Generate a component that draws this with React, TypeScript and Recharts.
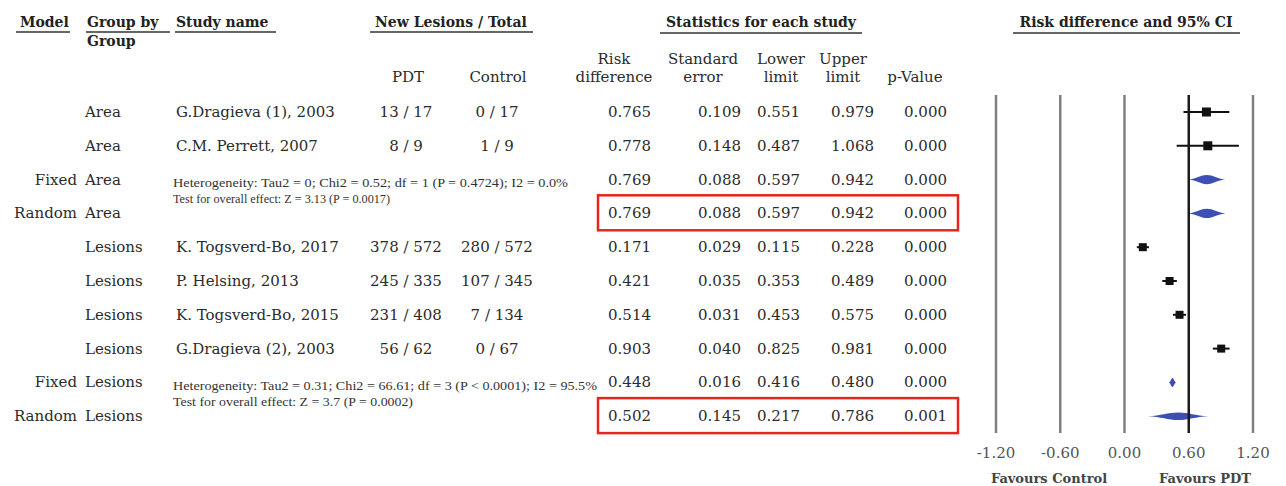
import React from 'react';
import { ComposedChart, Bar, XAxis, YAxis, ReferenceLine } from 'recharts';

// ---- table / forest data ----
const models = ['', '', 'Fixed', 'Random', '', '', '', '', 'Fixed', 'Random'];
const groups = ['Area', 'Area', 'Area', 'Area', 'Lesions', 'Lesions', 'Lesions', 'Lesions', 'Lesions', 'Lesions'];
const studies = [
  'G.Dragieva (1), 2003',
  'C.M. Perrett, 2007',
  '',
  '',
  'K. Togsverd-Bo, 2017',
  'P. Helsing, 2013',
  'K. Togsverd-Bo, 2015',
  'G.Dragieva (2), 2003',
  '',
  '',
];
const pdtCounts = ['13 / 17', '8 / 9', '', '', '378 / 572', '245 / 335', '231 / 408', '56 / 62', '', ''];
const controlCounts = ['0 / 17', '1 / 9', '', '', '280 / 572', '107 / 345', '7 / 134', '0 / 67', '', ''];
const riskDifference = [0.765, 0.778, 0.769, 0.769, 0.171, 0.421, 0.514, 0.903, 0.448, 0.502];
const standardError = [0.109, 0.148, 0.088, 0.088, 0.029, 0.035, 0.031, 0.04, 0.016, 0.145];
const lowerLimit = [0.551, 0.487, 0.597, 0.597, 0.115, 0.353, 0.453, 0.825, 0.416, 0.217];
const upperLimit = [0.979, 1.068, 0.942, 0.942, 0.228, 0.489, 0.575, 0.981, 0.48, 0.786];
const pValues = ['0.000', '0.000', '0.000', '0.000', '0.000', '0.000', '0.000', '0.000', '0.000', '0.001'];

const heterogeneityArea = 'Heterogeneity: Tau2 = 0; Chi2 = 0.52; df = 1 (P = 0.4724); I2 = 0.0%';
const overallEffectArea = 'Test for overall effect: Z = 3.13 (P = 0.0017)';
const heterogeneityLesions = 'Heterogeneity: Tau2 = 0.31; Chi2 = 66.61; df = 3 (P < 0.0001); I2 = 95.5%';
const overallEffectLesions = 'Test for overall effect: Z = 3.7 (P = 0.0002)';

const xTicks = [-1.2, -0.6, 0, 0.6, 1.2];

const rows = groups.map((group, i) => ({
  id: `row${i}`,
  model: models[i],
  group,
  study: studies[i],
  pdt: pdtCounts[i],
  control: controlCounts[i],
  rd: riskDifference[i],
  se: standardError[i],
  lo: lowerLimit[i],
  hi: upperLimit[i],
  p: pValues[i],
  summary: models[i] !== '',
  ci: [lowerLimit[i], upperLimit[i]],
}));

const SERIF = '"DejaVu Serif", serif';
const NOTE_FONT = '"Liberation Serif", serif';
const TEXT = '#2b2b2b';
const BLUE = '#3d4fb4';

// Each row of the left-hand table is drawn at the category position of the Y axis
const RowTick = (props: any) => {
  const { y, payload } = props;
  const r = rows.find((d) => d.id === payload?.value);
  if (!r) return <g />;
  const common = { fontFamily: SERIF, fontSize: 15, fill: TEXT, dominantBaseline: 'central' as const };
  const num = (v: number) => v.toFixed(3);
  const isArea = r.group === 'Area';
  const notes =
    r.model === 'Fixed'
      ? isArea
        ? [heterogeneityArea, overallEffectArea]
        : [heterogeneityLesions, overallEffectLesions]
      : null;
  const noteWidths = isArea ? [395, 217] : [424, 240];
  return (
    <g>
      {r.model && (
        <text x={77} y={y} textAnchor="end" {...common}>
          {r.model}
        </text>
      )}
      <text x={85} y={y} textAnchor="start" {...common}>
        {r.group}
      </text>
      {r.study && (
        <text x={176} y={y} textAnchor="start" {...common}>
          {r.study}
        </text>
      )}
      {r.pdt && (
        <text x={406} y={y} textAnchor="middle" {...common}>
          {r.pdt}
        </text>
      )}
      {r.control && (
        <text x={497} y={y} textAnchor="middle" {...common}>
          {r.control}
        </text>
      )}
      {notes && (
        <g fontFamily={NOTE_FONT} fontSize={13} fill="#333">
          <text
            x={173}
            y={y + 3}
            dominantBaseline="central"
            textLength={noteWidths[0]}
            lengthAdjust="spacingAndGlyphs"
          >
            {notes[0]}
          </text>
          <text
            x={173}
            y={y + 19}
            dominantBaseline="central"
            textLength={noteWidths[1]}
            lengthAdjust="spacingAndGlyphs"
          >
            {notes[1]}
          </text>
        </g>
      )}
      <text x={651} y={y} textAnchor="end" {...common}>
        {num(r.rd)}
      </text>
      <text x={741} y={y} textAnchor="end" {...common}>
        {num(r.se)}
      </text>
      <text x={800} y={y} textAnchor="end" {...common}>
        {num(r.lo)}
      </text>
      <text x={874} y={y} textAnchor="end" {...common}>
        {num(r.hi)}
      </text>
      <text x={947} y={y} textAnchor="end" {...common}>
        {r.p}
      </text>
      {r.model === 'Random' && (
        <rect x={598} y={y - 18} width={360} height={35} fill="none" stroke="#e52620" strokeWidth={2.5} />
      )}
    </g>
  );
};

// Confidence interval with point estimate (studies) or pooled estimate (summaries)
const ForestMark = (props: any) => {
  const { x, y, width, height, payload } = props;
  if (x == null || width == null) return null;
  const cy = y + height / 2;
  const { rd, lo, hi, summary, group, model } = payload;
  const px = x + (width * (rd - lo)) / (hi - lo);
  const x1 = x + width;
  if (!summary) {
    const s = group === 'Area' ? 9 : 8;
    return (
      <g>
        <line x1={x} x2={x1} y1={cy} y2={cy} stroke="#111" strokeWidth={2} />
        <rect x={px - s / 2} y={cy - s / 2} width={s} height={s} fill="#111" />
      </g>
    );
  }
  const h = group === 'Lesions' ? (model === 'Fixed' ? 4.5 : 3.8) : 4.6;
  const lw = px - x;
  const rw = x1 - px;
  const d = [
    `M${x},${cy}`,
    `C${x + lw * 0.45},${cy - h * 0.15} ${px - lw * 0.35},${cy - h} ${px},${cy - h}`,
    `C${px + rw * 0.35},${cy - h} ${x1 - rw * 0.45},${cy - h * 0.15} ${x1},${cy}`,
    `C${x1 - rw * 0.45},${cy + h * 0.15} ${px + rw * 0.35},${cy + h} ${px},${cy + h}`,
    `C${px - lw * 0.35},${cy + h} ${x + lw * 0.45},${cy + h * 0.15} ${x},${cy}`,
    'Z',
  ].join(' ');
  return <path d={d} fill={BLUE} />;
};

const headerText = { fontFamily: SERIF, fontSize: 14, fontWeight: 700, fill: '#222' };
const subText = { fontFamily: SERIF, fontSize: 15, fill: TEXT, textAnchor: 'middle' as const };

const Headers = () => (
  <svg
    width={1286}
    height={486}
    style={{ position: 'absolute', left: 0, top: 0, pointerEvents: 'none' }}
  >
    <g {...headerText}>
      <text x={20} y={27}>Model</text>
      <text x={87} y={27}>Group by</text>
      <text x={87} y={46}>Group</text>
      <text x={176} y={27}>Study name</text>
      <text x={451} y={27} textAnchor="middle">New Lesions / Total</text>
      <text x={761} y={27} textAnchor="middle">Statistics for each study</text>
      <text x={1126} y={27} textAnchor="middle">Risk difference and 95% CI</text>
    </g>
    <g stroke="#333" strokeWidth={1.6}>
      <line x1={16} x2={70} y1={32} y2={32} />
      <line x1={86} x2={170} y1={32} y2={32} />
      <line x1={175} x2={276} y1={32} y2={32} />
      <line x1={370} x2={533} y1={32} y2={32} />
      <line x1={660} x2={862} y1={33} y2={33} />
      <line x1={1013} x2={1240} y1={33} y2={33} />
    </g>
    <g {...subText}>
      <text x={408} y={82}>PDT</text>
      <text x={498} y={82}>Control</text>
      <text x={614} y={64}>Risk</text>
      <text x={614} y={82}>difference</text>
      <text x={703} y={64}>Standard</text>
      <text x={703} y={82}>error</text>
      <text x={781} y={64}>Lower</text>
      <text x={781} y={82}>limit</text>
      <text x={843} y={64}>Upper</text>
      <text x={843} y={82}>limit</text>
      <text x={915} y={82}>p-Value</text>
    </g>
    <g fontFamily={SERIF} fontSize={13} fontWeight={700} fill="#444" textAnchor="middle">
      <text x={1049} y={483}>Favours Control</text>
      <text x={1205} y={483}>Favours PDT</text>
    </g>
  </svg>
);

export default function App() {
  return (
    <div style={{ position: 'absolute', left: 0, top: 0, width: 1286, height: 486, background: '#fff' }}>
      <ComposedChart
        width={1286}
        height={486}
        data={rows}
        layout="vertical"
        margin={{ top: 95, right: 33, bottom: 23, left: 995 }}
        barCategoryGap={0}
      >
        <XAxis
          type="number"
          domain={[-1.2, 1.2]}
          ticks={xTicks}
          tickFormatter={(v: number) => v.toFixed(2)}
          axisLine={false}
          tickLine={false}
          height={30}
          tickMargin={8}
          interval={0}
          tick={{ fontFamily: SERIF, fontSize: 15, fill: '#555' }}
        />
        <YAxis
          type="category"
          dataKey="id"
          width={1}
          axisLine={false}
          tickLine={false}
          interval={0}
          tick={(p: any) => <RowTick {...p} />}
        />
        {xTicks.map((t) => (
          <ReferenceLine
            key={t}
            x={t}
            stroke={t === 0.6 ? '#1a1a1a' : '#808080'}
            strokeWidth={2.5}
          />
        ))}
        <Bar dataKey="ci" barSize={12} isAnimationActive={false} shape={<ForestMark />} />
      </ComposedChart>
      <Headers />
    </div>
  );
}
